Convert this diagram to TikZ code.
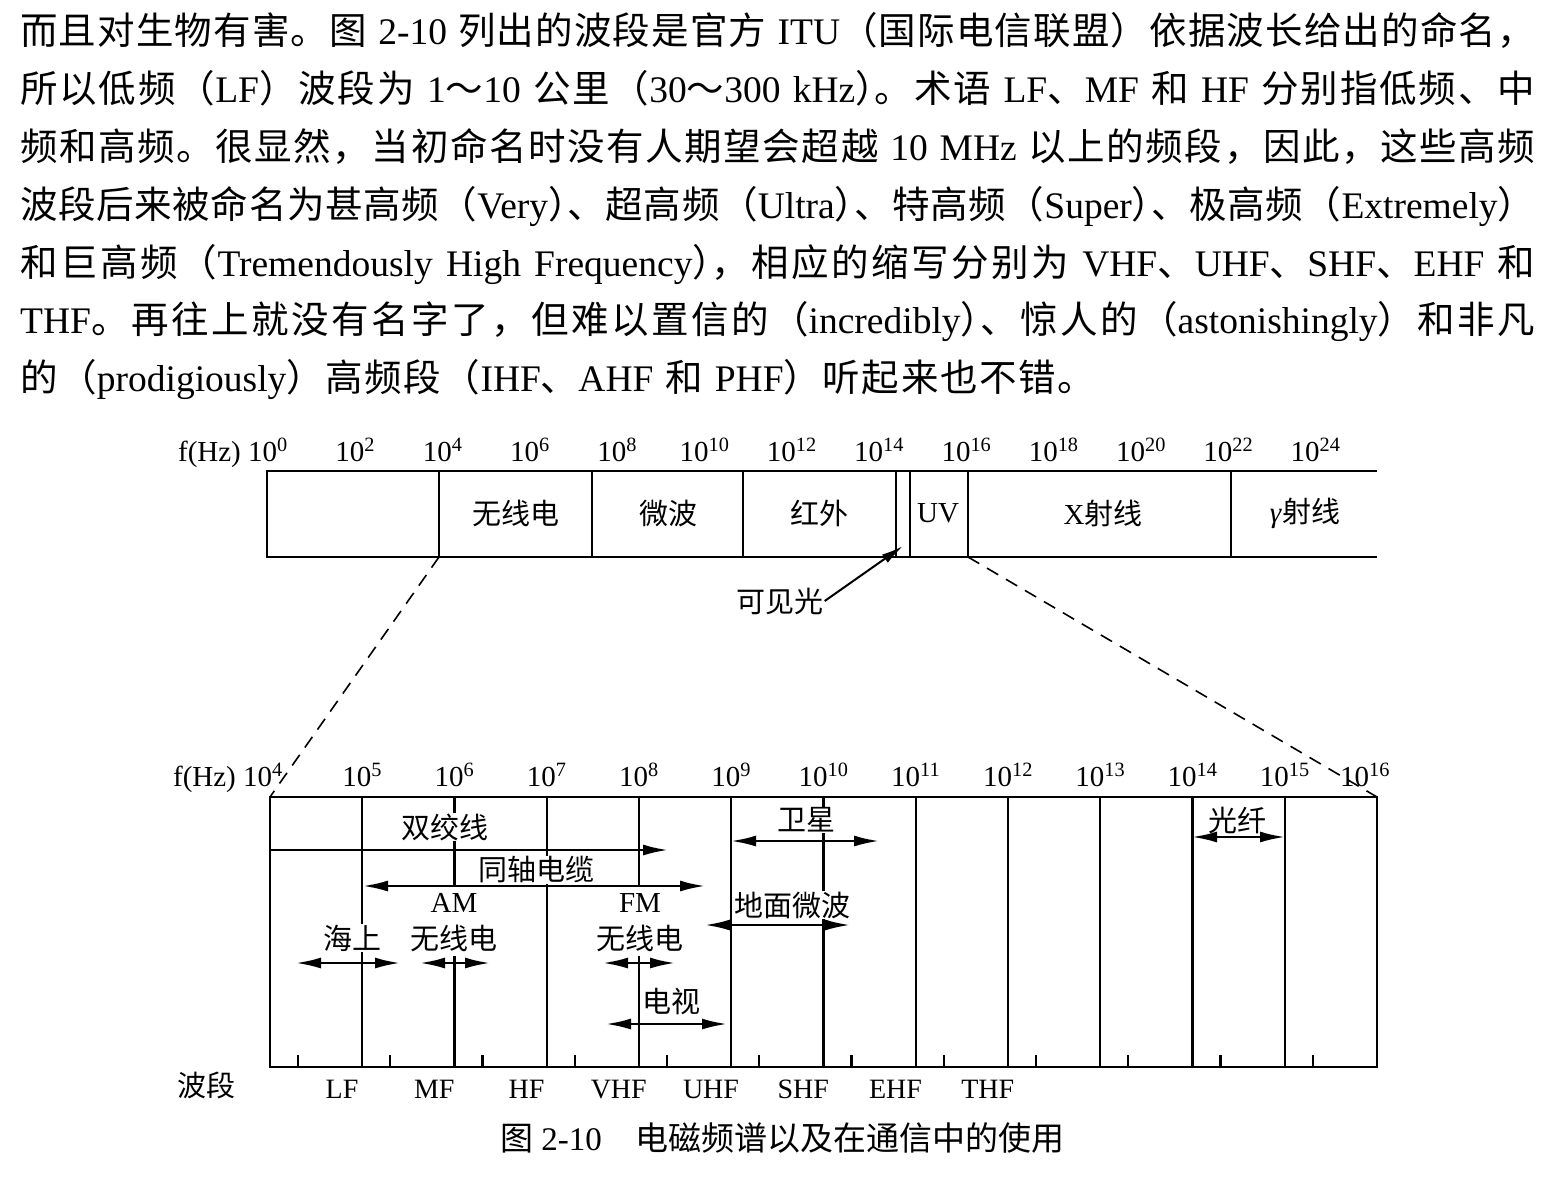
\documentclass[tikz,border=0pt]{standalone}
\usepackage{fontspec}
\setmainfont{Liberation Serif}
\newfontfamily\zhfont{Noto Sans CJK SC}
\newcommand\zh[1]{{\zhfont #1}}
\newcommand\pc{\kern-0.48em\relax}
\usetikzlibrary{arrows.meta}
% glue between CJK characters, so that lines can be justified
\newXeTeXintercharclass\cjkcls
\newcommand\setcjkrange[2]{%
  \count255=#1\relax
  \loop
    \XeTeXcharclass\count255=\cjkcls
    \ifnum\count255<#2\relax
    \advance\count255 by 1
  \repeat}
\setcjkrange{"3000}{"303F}
\setcjkrange{"4E00}{"9FFF}
\setcjkrange{"FF01}{"FF5E}
\newcommand\cjkglue{\hskip 0pt plus 3pt minus 1.2pt\relax}
\XeTeXinterchartokenstate=1
\XeTeXinterchartoks\cjkcls\cjkcls={\cjkglue}

\tikzset{
  body/.style={anchor=base west, inner sep=0pt, font=\fontsize{37.5pt}{46pt}\selectfont},
  lbl/.style={inner sep=1pt, font=\fontsize{29pt}{34pt}\selectfont},
  mask/.style={lbl, fill=white},
  num/.style={anchor=base, inner sep=0pt, font=\fontsize{29pt}{34pt}\selectfont},
  bar/.style={line width=2.4pt},
  divider/.style={line width=2.1pt},
  zoomline/.style={line width=1.6pt, dash pattern=on 13pt off 9pt},
  twoway/.style={line width=2.4pt, {Latex[length=25pt,width=11pt]}-{Latex[length=25pt,width=11pt]}},
  oneway/.style={line width=2.4pt, -{Latex[length=25pt,width=11pt]}},
  pointer/.style={line width=2pt, -{Latex[length=22pt,width=10pt]}}
}

\begin{document}
\begin{tikzpicture}[x=1pt, y=-1pt]
  \useasboundingbox (0,0) rectangle (1566,1182);

  % text above the figure
  \node[body] (p1) at (20,45) {\makebox[1515pt][s]{\zh{而且对生物有害。图} 2-10 \zh{列出的波段是官方} ITU\zh{（国际电信联盟）依据波长给出的命名，}}};
  \node[body] (p2) at (20,102.8) {\makebox[1515pt][s]{\zh{所以低频（}LF\zh{）波段为} 1\zh{～}10 \zh{公里（}30\zh{～}300 kHz\zh{）\pc。术语} LF\zh{、}MF \zh{和} HF \zh{分别指低频、中}}};
  \node[body] (p3) at (20,160.6) {\makebox[1515pt][s]{\zh{频和高频。很显然，当初命名时没有人期望会超越} 10 MHz \zh{以上的频段，因此，这些高频}}};
  \node[body] (p4) at (20,218.4) {\makebox[1515pt][s]{\zh{波段后来被命名为甚高频（}Very\zh{）\pc、超高频（}Ultra\zh{）\pc、特高频（}Super\zh{）\pc、极高频（}Extremely\zh{）}}};
  \node[body] (p5) at (20,276.2) {\makebox[1515pt][s]{\zh{和巨高频（}Tremendously High Frequency\zh{）\pc，相应的缩写分别为} VHF\zh{、}UHF\zh{、}SHF\zh{、}EHF \zh{和}}};
  \node[body] (p6) at (20,334) {\makebox[1515pt][s]{THF\zh{。再往上就没有名字了，但难以置信的（}incredibly\zh{）\pc、惊人的（}astonishingly\zh{）和非凡}}};
  \node[body] (p7) at (20,391.8) {\makebox[1075pt][s]{\zh{的（}prodigiously\zh{）高频段（}IHF\zh{、}AHF \zh{和} PHF\zh{）听起来也不错。}}};

  % whole spectrum
  \draw[bar] (1377,471) -- (267,471) -- (267,557) -- (1377,557);
  \foreach \x in {439,592,743,896,910,968,1231}
    \draw[divider] (\x,471) -- (\x,557);
  \coordinate (radio) at (439,557);
  \coordinate (uv) at (968,557);

  \node[num, anchor=base east] (fhz) at (288,461) {f(Hz) 10\textsuperscript{0}};
  \foreach \e [count=\k] in {2,4,...,24}
    \node[num] at ({268+\k*87.3},461) {10\textsuperscript{\e}};

  \node[lbl] (lradio) at (516,513) {\zh{无线电}};
  \node[lbl] (lmicro) at (668,513) {\zh{微波}};
  \node[lbl] (lir) at (819,513) {\zh{红外}};
  \node[lbl] (luv) at (938,513) {UV};
  \node[lbl] (lx) at (1103,513) {X\zh{射线}};
  \node[lbl] (lgamma) at (1305,513) {\textit{γ}\zh{射线}};

  \node[lbl] (vis) at (780,601) {\zh{可见光}};
  \coordinate (vistip) at (903,546);
  \draw[pointer] (vis.east) -- (vistip);

  % 10^4 .. 10^16 in detail
  \foreach \i in {4,...,16}
    \coordinate (d\i) at ({270+(\i-4)*92.25},797);
  \draw[bar] (d4) rectangle (1377,1067);
  \foreach \i in {5,...,15}
    \draw[divider] (d\i) -- ++(0,270);
  \foreach \i in {0,...,11}
    \draw[divider] ({298+\i*92.25},1067) -- ++(0,-12);

  \draw[zoomline] (radio) -- (d4);
  \draw[zoomline] (uv) -- (d16);

  \node[num, anchor=base east] (fhz2) at (283,786) {f(Hz) 10\textsuperscript{4}};
  \foreach \i in {5,...,15}
    \node[num] at ({270+(\i-4)*92.25},786) {10\textsuperscript{\i}};
  \node[num] at (1365,786) {10\textsuperscript{16}};

  \node[mask] (twisted) at (445,827) {\zh{双绞线}};
  \node[mask] (coax) at (536,870) {\zh{同轴电缆}};
  \node[mask, inner ysep=7pt] (am) at (454,903) {AM};
  \node[mask, inner ysep=5pt] (amr) at (454,938) {\zh{无线电}};
  \node[mask] (sea) at (352,938) {\zh{海上}};
  \node[mask, inner ysep=7pt] (fm) at (640,903) {FM};
  \node[mask, inner ysep=5pt] (fmr) at (640,938) {\zh{无线电}};
  \node[mask, anchor=west] (tv) at (641,1002) {\zh{电视}};
  \node[mask] (sat) at (806,820) {\zh{卫星}};
  \node[mask, anchor=west] (mw) at (733,905) {\zh{地面微波}};
  \node[mask] (fiber) at (1237,820) {\zh{光纤}};

  \coordinate (tp-a) at (270,850);  \coordinate (tp-b) at (668,850);
  \coordinate (cx-a) at (363,886);  \coordinate (cx-b) at (705,886);
  \coordinate (sea-a) at (296,963); \coordinate (sea-b) at (400,963);
  \coordinate (am-a) at (420,963);  \coordinate (am-b) at (490,963);
  \coordinate (fm-a) at (603,963);  \coordinate (fm-b) at (675,963);
  \coordinate (tv-a) at (606,1024); \coordinate (tv-b) at (727,1024);
  \coordinate (sat-a) at (731,841); \coordinate (sat-b) at (879,841);
  \coordinate (mw-a) at (705,925);  \coordinate (mw-b) at (850,925);
  \coordinate (fb-a) at (1192,837); \coordinate (fb-b) at (1285,837);

  \draw[oneway] (tp-a) -- (tp-b);
  \draw[twoway] (cx-a) -- (cx-b);
  \draw[twoway] (sea-a) -- (sea-b);
  \draw[twoway] (am-a) -- (am-b);
  \draw[twoway] (fm-a) -- (fm-b);
  \draw[twoway] (tv-a) -- (tv-b);
  \draw[twoway] (sat-a) -- (sat-b);
  \draw[twoway] (mw-a) -- (mw-b);
  \draw[twoway] (fb-a) -- (fb-b);

  \node[lbl] (bands) at (206,1085) {\zh{波段}};
  \foreach \b [count=\k from 0] in {LF,MF,HF,VHF,UHF,SHF,EHF,THF}
    \node[num, font=\fontsize{28pt}{30pt}\selectfont] at ({342+\k*92.25},1098) {\b};

  \node[anchor=base west, inner sep=0pt, font=\fontsize{33pt}{36pt}\selectfont] (caption) at (500,1150)
    {\zh{图} 2-10\hspace{34pt}\zh{电磁频谱以及在通信中的使用}};
\end{tikzpicture}
\end{document}
